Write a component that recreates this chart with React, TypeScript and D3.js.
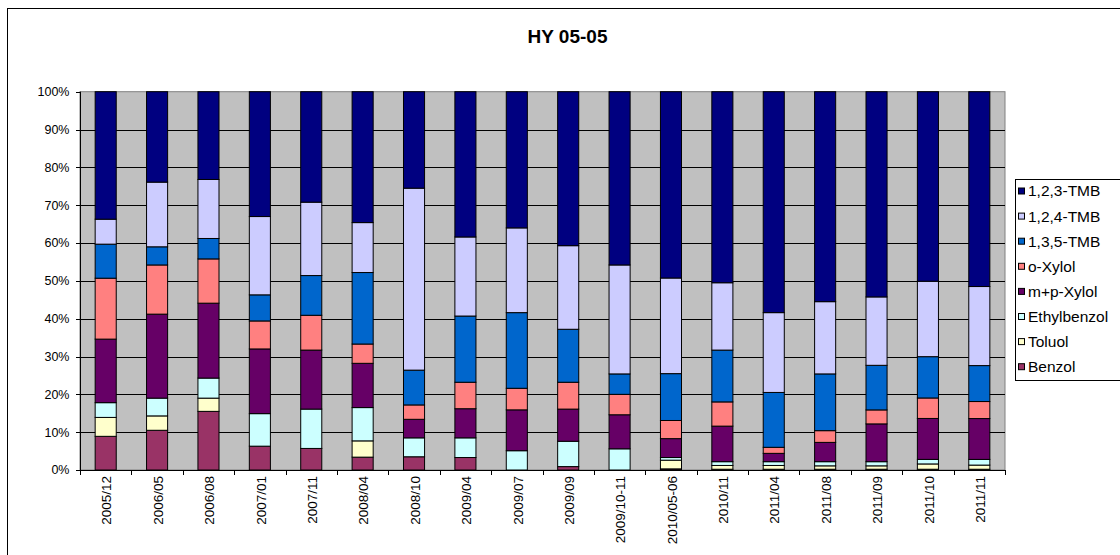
import React from "react";
import * as d3 from "d3";

const categories = [
  "2005/12", "2006/05", "2006/08", "2007/01", "2007/11", "2008/04", "2008/10", "2009/04", "2009/07",
  "2009/09", "2009/10-11", "2010/05-06", "2010/11", "2011/04", "2011/08", "2011/09", "2011/10", "2011/11",
];

// series in stacking order (bottom to top)
const seriesNames = ["Benzol", "Toluol", "Ethylbenzol", "m+p-Xylol", "o-Xylol", "1,3,5-TMB", "1,2,4-TMB", "1,2,3-TMB"];
const seriesColors = ["#993366", "#FFFFCC", "#CCFFFF", "#660066", "#FF8080", "#0066CC", "#CCCCFF", "#000080"];

const benzol = [8.9, 10.5, 15.5, 6.3, 5.7, 3.4, 3.5, 3.3, 0, 0.9, 0, 0.3, 0.2, 0.2, 0.2, 0.2, 0.2, 0.2];
const toluol = [5.0, 3.8, 3.5, 0, 0, 4.3, 0, 0, 0, 0, 0, 2.3, 1.0, 1.0, 0.9, 0.9, 1.4, 1.1];
const ethylbenzol = [3.9, 4.7, 5.3, 8.6, 10.4, 8.8, 5.0, 5.2, 5.1, 6.7, 5.6, 0.7, 1.0, 1.0, 1.1, 1.1, 1.2, 1.5];
const mpXylol = [16.8, 22.2, 19.8, 17.1, 15.6, 11.7, 4.9, 7.7, 10.8, 8.5, 9.0, 5.0, 9.4, 2.2, 5.1, 10.0, 10.8, 10.8];
const oXylol = [16.1, 13.0, 11.7, 7.4, 9.2, 5.1, 3.8, 7.0, 5.7, 7.1, 5.4, 4.8, 6.4, 1.6, 3.1, 3.7, 5.4, 4.5];
const tmb135 = [9.0, 4.8, 5.4, 6.9, 10.5, 18.9, 9.2, 17.5, 20.0, 14.0, 5.4, 12.4, 13.7, 14.5, 15.0, 11.8, 10.9, 9.5];
const tmb124 = [6.6, 17.1, 15.6, 20.7, 19.4, 13.2, 48.1, 20.9, 22.4, 22.1, 28.8, 25.3, 17.8, 21.1, 19.1, 18.1, 19.9, 20.9];
const tmb123 = [33.7, 23.9, 23.2, 33.0, 29.2, 34.6, 25.5, 38.4, 36.0, 40.7, 45.8, 49.3, 50.5, 58.4, 55.5, 54.3, 50.0, 51.5];

const yTicks = [0, 0.1, 0.2, 0.3, 0.4, 0.5, 0.6, 0.7, 0.8, 0.9, 1.0];
const title = "HY 05-05";

const seriesValues = [benzol, toluol, ethylbenzol, mpXylol, oXylol, tmb135, tmb124, tmb123];

export default function App() {
  const W = 1120, H = 555;
  const plot = { left: 80, right: 1005, top: 91.7, bottom: 470 };
  const font = "Arial, 'Liberation Sans', Helvetica, sans-serif";

  const rows = categories.map((c, i) => {
    const r: any = { cat: c };
    seriesNames.forEach((s, j) => (r[s] = seriesValues[j][i]));
    return r;
  });
  const stacked = d3.stack<any>().keys(seriesNames).offset(d3.stackOffsetExpand)(rows);

  const x = d3.scaleBand<string>().domain(categories).range([plot.left, plot.right]).paddingInner(0.59).paddingOuter(0.295);
  const y = d3.scaleLinear().domain([0, 1]).range([plot.bottom, plot.top]);
  const step = x.step();
  const fmt = d3.format(".0%");

  const legendOrder = [...seriesNames].reverse();
  const legendColors = [...seriesColors].reverse();

  return (
    <div style={{ position: "absolute", left: 0, top: 0, width: W, height: H, overflow: "hidden", background: "#fff" }}>
      <svg width={W} height={H} style={{ display: "block" }}>
        <rect x={0} y={0} width={W} height={H} fill="#fff" />
        <rect x={7.5} y={8.5} width={W + 20} height={H + 20} fill="#fff" stroke="#000" strokeWidth={1} />
        <text x={567.5} y={43} textAnchor="middle" fontFamily={font} fontWeight="bold" fontSize={19} fill="#000">{title}</text>

        {/* plot area */}
        <rect x={plot.left} y={plot.top} width={plot.right - plot.left} height={plot.bottom - plot.top} fill="#C0C0C0" stroke="#808080" strokeWidth={1} />
        {yTicks.slice(1, -1).map((t) => (
          <line key={"g" + t} x1={plot.left} x2={plot.right} y1={Math.round(y(t)) + 0.5} y2={Math.round(y(t)) + 0.5} stroke="#000" strokeWidth={1} />
        ))}

        {/* bars */}
        {stacked.map((s, si) => (
          <g key={s.key} fill={seriesColors[si]}>
            {s.map((d, i) => {
              const h = y(d[0]) - y(d[1]);
              if (h <= 0.05) return null;
              return (
                <rect key={i} x={x(categories[i])!} y={y(d[1])} width={x.bandwidth()} height={h} stroke="#000" strokeWidth={1} />
              );
            })}
          </g>
        ))}

        {/* axes */}
        <line x1={plot.left + 0.5} x2={plot.left + 0.5} y1={plot.top} y2={plot.bottom} stroke="#000" />
        <line x1={plot.left} x2={plot.right} y1={plot.bottom + 0.5} y2={plot.bottom + 0.5} stroke="#000" />
        {yTicks.map((t) => (
          <g key={"t" + t}>
            <line x1={plot.left - 4} x2={plot.left} y1={Math.round(y(t)) + 0.5} y2={Math.round(y(t)) + 0.5} stroke="#000" />
            <text x={69.5} y={y(t)} dy="0.35em" textAnchor="end" fontFamily={font} fontSize={12.5} fill="#000">{fmt(t)}</text>
          </g>
        ))}
        {d3.range(categories.length + 1).map((i) => {
          const xx = Math.round(plot.left + i * step) + 0.5;
          return <line key={"xt" + i} x1={xx} x2={xx} y1={plot.bottom} y2={plot.bottom + 5} stroke="#000" />;
        })}
        {categories.map((c) => {
          const cx = x(c)! + x.bandwidth() / 2 + 1;
          const ty = plot.bottom + 6;
          return (
            <text key={"l" + c} transform={`translate(${cx},${ty}) rotate(-90)`} dy="0.35em" textAnchor="end" fontFamily={font} fontSize={13.5} fill="#000">{c}</text>
          );
        })}

        {/* legend */}
        <rect x={1015.5} y={179.5} width={120} height={201} fill="#fff" stroke="#000" strokeWidth={1} />
        {legendOrder.map((n, i) => {
          const cy = 191 + i * 25.1;
          return (
            <g key={"lg" + n}>
              <rect x={1018.5} y={cy - 3} width={6} height={6} fill={legendColors[i]} stroke="#000" strokeWidth={1} />
              <text x={1028} y={cy} dy="0.35em" fontFamily={font} fontSize={15.5} fill="#000">{n}</text>
            </g>
          );
        })}
      </svg>
    </div>
  );
}
